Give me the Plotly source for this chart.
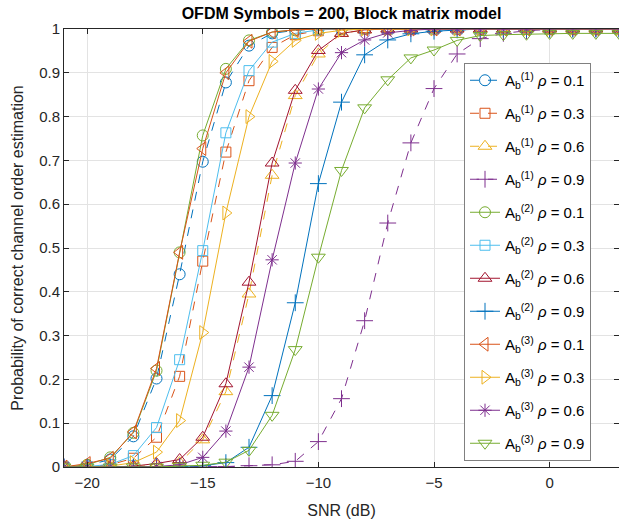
import plotly.graph_objects as go

snr = list(range(-21, 4))

# A_b^(1) (dashed)
a1_r01 = [0, 0.004, 0.017, 0.07, 0.202, 0.44, 0.697, 0.878, 0.962, 0.99, 0.997, 1, 1, 1, 1, 1, 1, 1, 1, 1, 1, 1, 1, 1, 1]
a1_r03 = [0, 0.001, 0.005, 0.02, 0.068, 0.207, 0.47, 0.719, 0.882, 0.958, 0.987, 0.996, 1, 1, 1, 1, 1, 1, 1, 1, 1, 1, 1, 1, 1]
a1_r06 = [0, 0, 0, 0.001, 0.004, 0.01, 0.062, 0.172, 0.395, 0.666, 0.848, 0.943, 0.99, 0.998, 1, 1, 1, 1, 1, 1, 1, 1, 1, 1, 1]
a1_r09 = [0, 0, 0, 0, 0, 0, 0, 0.001, 0.003, 0.005, 0.013, 0.058, 0.156, 0.334, 0.557, 0.74, 0.864, 0.943, 0.978, 0.99, 0.996, 0.999, 1, 1, 1]
# A_b^(2) (solid)
a2_r01 = [0, 0.005, 0.022, 0.078, 0.22, 0.49, 0.757, 0.909, 0.974, 0.993, 0.998, 1, 1, 1, 1, 1, 1, 1, 1, 1, 1, 1, 1, 1, 1]
a2_r03 = [0, 0.001, 0.006, 0.026, 0.09, 0.245, 0.494, 0.763, 0.905, 0.97, 0.99, 0.998, 1, 1, 1, 1, 1, 1, 1, 1, 1, 1, 1, 1, 1]
a2_r06 = [0, 0, 0, 0.002, 0.008, 0.017, 0.068, 0.19, 0.422, 0.694, 0.86, 0.951, 0.99, 0.998, 1, 1, 1, 1, 1, 1, 1, 1, 1, 1, 1]
a2_r09 = [0, 0, 0, 0, 0, 0.001, 0.003, 0.01, 0.045, 0.163, 0.375, 0.647, 0.833, 0.941, 0.975, 0.989, 0.995, 0.998, 1, 1, 1, 1, 1, 1, 1]
# A_b^(3) (solid)
a3_r01 = [0, 0.008, 0.02, 0.08, 0.225, 0.49, 0.727, 0.9, 0.972, 0.993, 0.998, 1, 1, 1, 1, 1, 1, 1, 1, 1, 1, 1, 1, 1, 1]
a3_r03 = [0, 0, 0.002, 0.01, 0.034, 0.106, 0.307, 0.58, 0.8, 0.926, 0.974, 0.99, 0.997, 1, 1, 1, 1, 1, 1, 1, 1, 1, 1, 1, 1]
a3_r06 = [0, 0, 0, 0, 0.001, 0.005, 0.022, 0.082, 0.228, 0.473, 0.694, 0.863, 0.946, 0.975, 0.991, 0.997, 1, 1, 1, 1, 1, 1, 1, 1, 1]
a3_r09 = [0, 0, 0, 0, 0, 0.002, 0.004, 0.011, 0.038, 0.118, 0.268, 0.479, 0.677, 0.82, 0.884, 0.934, 0.952, 0.974, 0.985, 0.987, 0.988, 0.99, 0.99, 0.99, 0.99]

series_names = [
    "A<sub>b</sub><sup>(1)</sup> <i>ρ</i> = 0.1",
    "A<sub>b</sub><sup>(1)</sup> <i>ρ</i> = 0.3",
    "A<sub>b</sub><sup>(1)</sup> <i>ρ</i> = 0.6",
    "A<sub>b</sub><sup>(1)</sup> <i>ρ</i> = 0.9",
    "A<sub>b</sub><sup>(2)</sup> <i>ρ</i> = 0.1",
    "A<sub>b</sub><sup>(2)</sup> <i>ρ</i> = 0.3",
    "A<sub>b</sub><sup>(2)</sup> <i>ρ</i> = 0.6",
    "A<sub>b</sub><sup>(2)</sup> <i>ρ</i> = 0.9",
    "A<sub>b</sub><sup>(3)</sup> <i>ρ</i> = 0.1",
    "A<sub>b</sub><sup>(3)</sup> <i>ρ</i> = 0.3",
    "A<sub>b</sub><sup>(3)</sup> <i>ρ</i> = 0.6",
    "A<sub>b</sub><sup>(3)</sup> <i>ρ</i> = 0.9",
]
series_values = [a1_r01, a1_r03, a1_r06, a1_r09, a2_r01, a2_r03, a2_r06, a2_r09, a3_r01, a3_r03, a3_r06, a3_r09]

colors = ["#0072BD", "#D95319", "#EDB120", "#7E2F8E", "#77AC30", "#4DBEEE",
          "#A2142F", "#0072BD", "#D95319", "#EDB120", "#7E2F8E", "#77AC30"]
symbols = ["circle-open", "square-open", "triangle-up-open", "cross-thin-open",
           "circle-open", "square-open", "triangle-up-open", "cross-thin-open",
           "triangle-left-open", "triangle-right-open", "asterisk-open", "triangle-down-open"]
dashes = ["dash"] * 4 + ["solid"] * 8
sizes = [11, 10, 12, 12, 11, 10, 12, 12, 12, 12, 11, 12]

FONT = "Liberation Sans, Arial, Helvetica, sans-serif"

W, H = 619, 524
L, R, T, B = 64, 0, 29, 57
PW, PH = W - L - R, H - T - B

fig = go.Figure()
for i, (name, vals) in enumerate(zip(series_names, series_values)):
    fig.add_trace(go.Scatter(
        x=snr, y=vals, name=name, mode="lines+markers",
        legendgroup=f"g{i}",
        line=dict(color=colors[i], width=1, dash=dashes[i]),
        marker=dict(symbol=symbols[i], size=sizes[i], color=colors[i],
                    line=dict(color=colors[i], width=1)),
    ))

fig.update_layout(
    width=W, height=H,
    margin=dict(l=L, r=R, t=T, b=B),
    paper_bgcolor="white", plot_bgcolor="white",
    font=dict(family=FONT, color="#262626", size=14),
    title=dict(text="<b>OFDM Symbols = 200, Block matrix model</b>",
               x=(L + PW / 2) / W, xanchor="center", y=1 - 13 / H, yanchor="middle",
               font=dict(size=16, color="black", family=FONT)),
    legend=dict(x=(464 - L) / PW, y=(467 - 63) / PH, xanchor="left", yanchor="top",
                bgcolor="white", bordercolor="#808080", borderwidth=1,
                font=dict(size=15, color="#000000", family=FONT),
                tracegroupgap=10.5, itemwidth=30),
    showlegend=True,
)
fig.update_xaxes(
    range=[-21, 3], tickvals=[-20, -15, -10, -5, 0],
    showgrid=True, gridcolor="#e3e3e3", gridwidth=1, zeroline=False,
    showline=True, linecolor="#262626", linewidth=1, mirror="ticks",
    ticks="inside", ticklen=5, tickcolor="#262626",
    tickfont=dict(size=15, color="#262626"), ticklabelstandoff=2,
    title=dict(text="SNR (dB)", font=dict(size=16, color="#262626"), standoff=14),
)
fig.update_yaxes(
    range=[0, 1], dtick=0.1, tick0=0,
    showgrid=True, gridcolor="#e3e3e3", gridwidth=1, zeroline=False,
    showline=True, linecolor="#262626", linewidth=1, mirror="ticks",
    ticks="inside", ticklen=5, tickcolor="#262626",
    tickfont=dict(size=15, color="#262626"),
    title=dict(text="Probability of correct channel order estimation",
               font=dict(size=16, color="#262626"), standoff=11),
)

fig.write_html("out.html",
               config={"displayModeBar": False},
               post_script="document.body.style.margin='0';document.body.style.overflow='hidden';")
